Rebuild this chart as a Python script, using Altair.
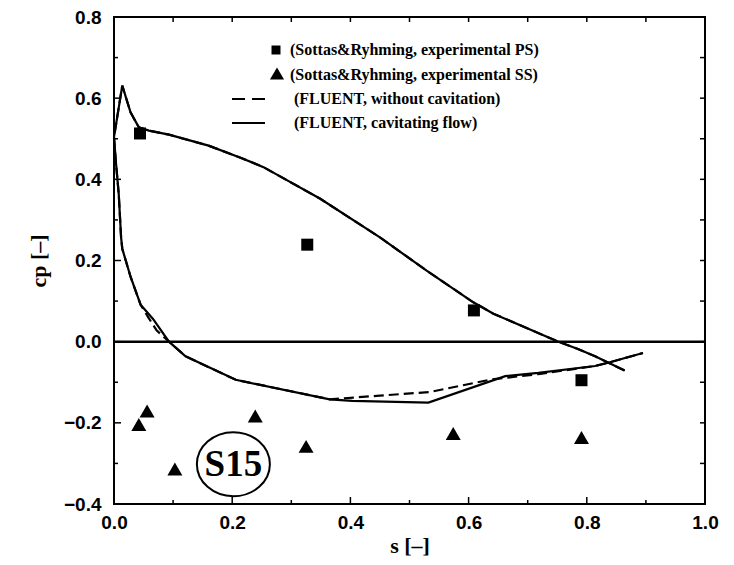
import altair as alt
import pandas as pd

# ---- data ----
# pressure side (shared by both FLUENT runs), from trailing edge to leading edge
ps_s = [0.864, 0.814, 0.785, 0.752, 0.704, 0.642, 0.608, 0.529, 0.450, 0.349,
        0.253, 0.213, 0.160, 0.093, 0.059, 0.042, 0.028, 0.014, 0.000]
ps_cp = [-0.071, -0.036, -0.018, 0.000, 0.030, 0.069, 0.097, 0.175, 0.257, 0.352,
         0.430, 0.454, 0.483, 0.510, 0.520, 0.528, 0.565, 0.631, 0.504]

# suction side, cavitating flow
ss_cav_s = [0.003, 0.008, 0.012, 0.014, 0.028, 0.045, 0.066, 0.093, 0.121, 0.206,
            0.365, 0.403, 0.532, 0.662, 0.718, 0.814, 0.836, 0.895]
ss_cav_cp = [0.446, 0.364, 0.257, 0.229, 0.160, 0.091, 0.056, 0.000, -0.036, -0.094,
             -0.142, -0.146, -0.150, -0.085, -0.077, -0.060, -0.052, -0.028]

# suction side, without cavitation
ss_nc_s = [0.003, 0.008, 0.012, 0.014, 0.028, 0.045, 0.058, 0.072, 0.093, 0.121,
           0.206, 0.365, 0.450, 0.535, 0.639, 0.718, 0.814, 0.836, 0.895]
ss_nc_cp = [0.446, 0.364, 0.257, 0.229, 0.160, 0.091, 0.060, 0.028, 0.000, -0.036,
            -0.094, -0.142, -0.133, -0.124, -0.093, -0.080, -0.060, -0.052, -0.028]

# experiments (Sottas & Ryhming)
exp_ps_s = [0.044, 0.327, 0.609, 0.791]
exp_ps_cp = [0.513, 0.239, 0.077, -0.095]
exp_ss_s = [0.042, 0.056, 0.103, 0.239, 0.325, 0.574, 0.791]
exp_ss_cp = [-0.204, -0.171, -0.314, -0.183, -0.258, -0.226, -0.236]

x_major = [0.0, 0.2, 0.4, 0.6, 0.8, 1.0]
x_minor = [0.1, 0.3, 0.5, 0.7, 0.9]
y_major = [-0.4, -0.2, 0.0, 0.2, 0.4, 0.6, 0.8]
y_minor = [-0.3, -0.1, 0.1, 0.3, 0.5, 0.7]

legend_labels = ["(Sottas&Ryhming, experimental PS)",
                 "(Sottas&Ryhming, experimental SS)",
                 "(FLUENT, without cavitation)",
                 "(FLUENT, cavitating flow)"]

# ---- tables ----
cav = pd.DataFrame({"s": ps_s + ss_cav_s, "cp": ps_cp + ss_cav_cp})
cav["o"] = range(len(cav))
nc = pd.DataFrame({"s": ps_s + ss_nc_s, "cp": ps_cp + ss_nc_cp})
nc["o"] = range(len(nc))
eps = pd.DataFrame({"s": exp_ps_s, "cp": exp_ps_cp})
ess = pd.DataFrame({"s": exp_ss_s, "cp": exp_ss_cp})

W, H = 591, 487
SANS = "Liberation Sans"
SERIF = "Liberation Serif"

xs = alt.Scale(domain=[0, 1], nice=False, zero=False)
ys = alt.Scale(domain=[-0.4, 0.8], nice=False, zero=False)

xaxis = alt.Axis(values=x_major, format=".1f", ticks=False, domain=False, grid=False,
                 labelFont=SANS, labelFontWeight="bold", labelFontSize=19, labelColor="black",
                 labelPadding=9, labelFlush=False, title="s [–]", titleFont=SERIF,
                 titleFontSize=22, titleFontWeight="bold", titleColor="black", titlePadding=3)
yaxis = alt.Axis(values=y_major, format=".1f", ticks=False, domain=False, grid=False,
                 labelFont=SANS, labelFontWeight="bold", labelFontSize=19, labelColor="black",
                 labelPadding=13, labelFlush=False, title="cp [–]", titleFont=SERIF,
                 titleFontSize=22, titleFontWeight="bold", titleColor="black", titlePadding=13)

base_line_nc = alt.Chart(nc).mark_line(color="black", strokeWidth=2.2, strokeDash=[10, 5]).encode(
    x=alt.X("s:Q", scale=xs, axis=xaxis),
    y=alt.Y("cp:Q", scale=ys, axis=yaxis),
    order="o:Q",
)
line_cav = alt.Chart(cav).mark_line(color="black", strokeWidth=2.2).encode(
    x=alt.X("s:Q", scale=xs), y=alt.Y("cp:Q", scale=ys), order="o:Q")

pts_ps = alt.Chart(eps).mark_point(shape="square", filled=True, color="black", size=144, opacity=1).encode(
    x=alt.X("s:Q", scale=xs), y=alt.Y("cp:Q", scale=ys))
pts_ss = alt.Chart(ess).mark_point(shape="triangle-up", filled=True, color="black", size=225, opacity=1).encode(
    x=alt.X("s:Q", scale=xs), y=alt.Y("cp:Q", scale=ys))

one = pd.DataFrame({"k": [0]})
zero_line = alt.Chart(one).mark_rule(color="black", strokeWidth=2.5).encode(y=alt.datum(0.0, scale=ys))

# plot frame
frame = alt.Chart(one).mark_rect(fill=None, fillOpacity=0, stroke="black", strokeWidth=2).encode(
    x=alt.value(0), x2=alt.value(W), y=alt.value(0), y2=alt.value(H))

# inward ticks on all four sides
def vticks(vals, y0, y1):
    return alt.Chart(pd.DataFrame({"v": vals})).mark_rule(color="black", strokeWidth=1.5).encode(
        x=alt.X("v:Q", scale=xs), y=alt.value(y0), y2=alt.value(y1))

def hticks(vals, x0, x1):
    return alt.Chart(pd.DataFrame({"v": vals})).mark_rule(color="black", strokeWidth=1.5).encode(
        y=alt.Y("v:Q", scale=ys), x=alt.value(x0), x2=alt.value(x1))

ticks = [
    vticks(x_major, H, H - 7), vticks(x_minor, H, H - 4),
    vticks(x_major + x_minor, 0, 5),
    hticks(y_major, 0, 7), hticks(y_minor, 0, 4),
    hticks(y_major + y_minor, W, W - 5),
]

# S15 label with ellipse
ellipse = alt.Chart(one).mark_point(
    shape="M -1 0 A 1 0.877 0 1 1 1 0 A 1 0.877 0 1 1 -1 0 Z",
    filled=False, color="black", strokeWidth=2, size=5329, opacity=1).encode(
    x=alt.datum(0.202, scale=xs), y=alt.datum(-0.302, scale=ys))
s15 = alt.Chart(one).mark_text(text="S15", font=SERIF, fontWeight="bold", fontSize=37,
                               color="black", align="center", baseline="middle", dy=1).encode(
    x=alt.datum(0.202, scale=xs), y=alt.datum(-0.302, scale=ys))

# legend built by hand
rows_y = [33, 57.5, 82, 106]
rows_x = [176, 176, 180, 180]
leg = []
leg.append(alt.Chart(one).mark_point(shape="square", filled=True, color="black", size=81, opacity=1).encode(
    x=alt.value(162), y=alt.value(rows_y[0])))
leg.append(alt.Chart(one).mark_point(shape="triangle-up", filled=True, color="black", size=200, opacity=1).encode(
    x=alt.value(163), y=alt.value(rows_y[1] - 1)))
leg.append(alt.Chart(one).mark_rule(color="black", strokeWidth=2, strokeDash=[13, 7]).encode(
    x=alt.value(118), x2=alt.value(151), y=alt.value(rows_y[2])))
leg.append(alt.Chart(one).mark_rule(color="black", strokeWidth=2).encode(
    x=alt.value(118), x2=alt.value(151), y=alt.value(rows_y[3])))
for lab, lx, ly in zip(legend_labels, rows_x, rows_y):
    leg.append(alt.Chart(one).mark_text(text=lab, font=SERIF, fontWeight="bold", fontSize=16,
                                        color="black", align="left", baseline="middle").encode(
        x=alt.value(lx), y=alt.value(ly)))

chart = alt.layer(base_line_nc, line_cav, zero_line, pts_ps, pts_ss, ellipse, s15,
                  *ticks, frame, *leg).properties(
    width=W, height=H,
    autosize=alt.AutoSizeParams(type="none"),
    padding={"left": 106, "top": 9, "right": 21, "bottom": 53},
    background="white",
).configure_view(stroke=None)

chart.save("out.html", embed_options={"renderer": "svg", "actions": False})
